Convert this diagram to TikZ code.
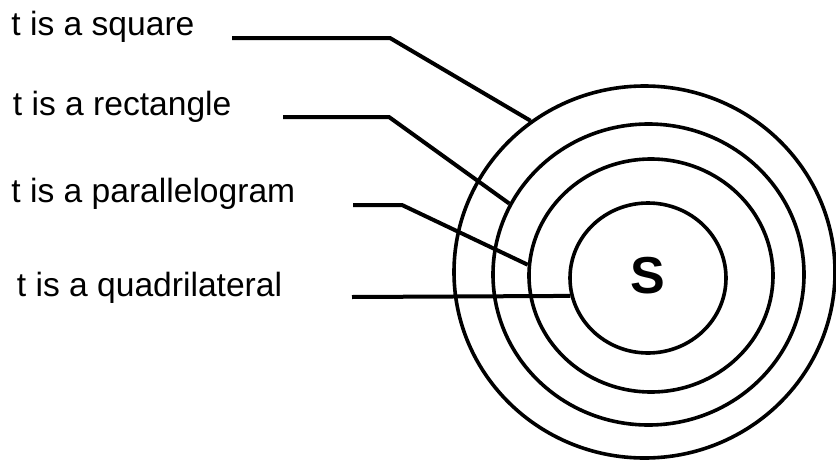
\documentclass[tikz,border=0pt]{standalone}
\usepackage{fontspec}
\setmainfont{Liberation Sans}
\usepackage{tikz}
\usetikzlibrary{shapes.geometric}
\tikzset{
  ring/.style={draw=black, line width=1.8pt, ellipse, inner sep=0pt},
  tlabel/.style={anchor=base west, inner sep=0pt, font=\fontsize{16.8}{20}\selectfont},
  leader/.style={draw=black, line width=2pt},
}

\begin{document}
\begin{tikzpicture}[x=0.5pt, y=-0.5pt]
  \useasboundingbox (0,0) rectangle (836,461);
  % rings, outer to inner
  \node[ring, minimum width=190.5pt, minimum height=186pt] (sq) at (644.5,272) {};
  \node[ring, minimum width=155.5pt, minimum height=150.5pt] (rc) at (648.5,274.5) {};
  \node[ring, minimum width=122pt, minimum height=116.5pt] (pg) at (651,275.5) {};
  \node[ring, minimum width=78pt, minimum height=75pt] (qd) at (648,278) {};
  \node[inner sep=0pt, font=\fontsize{26}{30}\selectfont\bfseries] (s) at (648,276) {S};
  % labels
  \node[tlabel] (lsq) at (11,35) {t is a square};
  \node[tlabel] (lrc) at (12.5,115) {t is a rectangle};
  \node[tlabel] (lpg) at (11,202) {t is a parallelogram};
  \node[tlabel] (lqd) at (16.5,296) {t is a quadrilateral};
  % leaders
  \coordinate (sqa) at (232,38);
  \coordinate (sqb) at (390,38);
  \coordinate (rca) at (283,117);
  \coordinate (rcb) at (389,117);
  \coordinate (pga) at (353,205);
  \coordinate (pgb) at (402,205);
  \coordinate (qda) at (352,297);
  \draw[leader] (sqa) -- (sqb) -- (sq.127);
  \draw[leader] (rca) -- (rcb) -- (rc.153);
  \draw[leader] (pga) -- (pgb) -- (pg.175);
  \draw[leader] (qda) -- (qd.193);
\end{tikzpicture}
\end{document}
